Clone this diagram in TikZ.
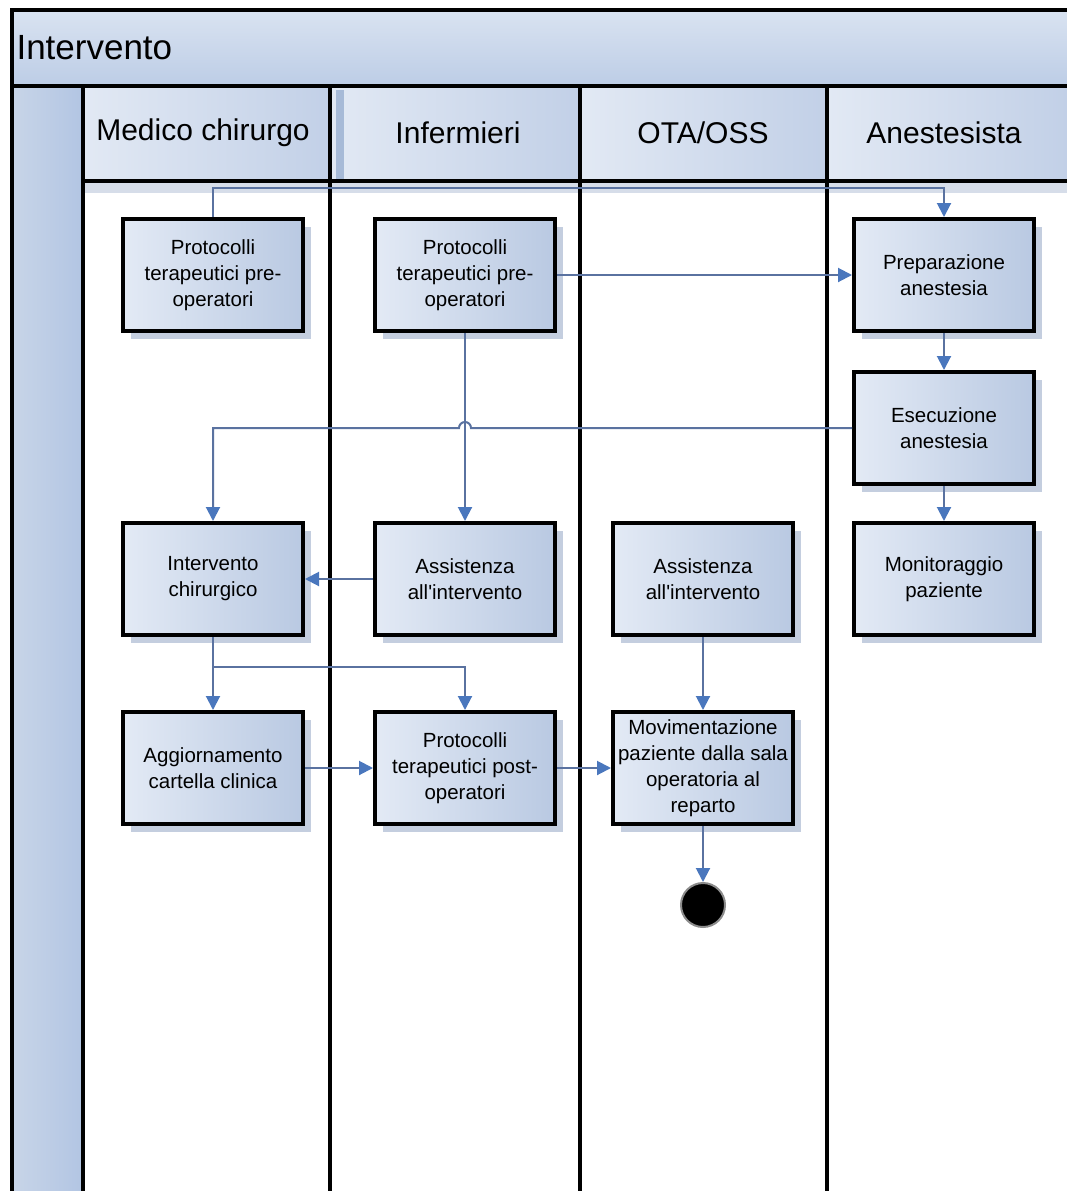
\documentclass[tikz,border=0pt]{standalone}
\usepackage{fontspec}
\setmainfont{Liberation Sans}[Ligatures=TeXOff]
\usetikzlibrary{arrows.meta,shadows,calc}

\definecolor{bandtop}{HTML}{D9E3F1}
\definecolor{bandbot}{HTML}{BDCDE6}
\definecolor{headl}{HTML}{E2E9F4}
\definecolor{headr}{HTML}{C2D0E7}
\definecolor{stripl}{HTML}{C8D5E8}
\definecolor{stripr}{HTML}{B2C5E3}
\definecolor{boxl}{HTML}{E3EAF5}
\definecolor{boxr}{HTML}{B9C9E2}
\definecolor{shadowc}{HTML}{C4CEDF}
\definecolor{linec}{HTML}{5A72A0}
\definecolor{arrowc}{HTML}{4A77BD}
\definecolor{sepc}{HTML}{A7BAD7}

\begin{document}
\begin{tikzpicture}[x=1pt,y=-1pt,
  laneline/.style={draw=black, line width=4pt},
  task/.style={draw=black, line width=4pt, minimum width=180pt, minimum height=112pt,
    inner sep=0pt, align=center, left color=boxl, right color=boxr,
    font=\fontsize{20.5}{26}\selectfont,
    drop shadow={shadow xshift=8pt, shadow yshift=-8pt, fill=shadowc, opacity=1}},
  flow/.style={draw=linec, line width=2pt, -{Triangle[length=14pt,width=14pt,color=arrowc]}},
  lanehead/.style={font=\fontsize{30}{34}\selectfont, anchor=center},
  headcell/.style={left color=headl, right color=headr}
]
% canvas
\fill[white] (0,0) rectangle (1067,1191);
\useasboundingbox (0,0) rectangle (1067,1191);

% pool title band
\shade[top color=bandtop, bottom color=bandbot] (12,10) rectangle (1067,85);
\node[anchor=west, font=\fontsize{35}{40}\selectfont] (pooltitle) at (13,48) {Intervento};

% left strip of the pool
\shade[left color=stripl, right color=stripr] (12,86) rectangle (83,1191);

% lane header cells
\shade[headcell] (83,87) rectangle (330,181);
\shade[headcell] (330,87) rectangle (580,181);
\shade[headcell] (580,87) rectangle (827,181);
\shade[headcell] (827,87) rectangle (1067,181);
\fill[sepc] (336,90) rectangle (344,181);
\fill[shadowc!70!white] (83,183) rectangle (1067,193);

\node[lanehead] (hmed) at (203,133) {Medico chirurgo};
\node[lanehead] (hinf) at (458,133) {Infermieri};
\node[lanehead] (hota) at (703,133) {OTA/OSS};
\node[lanehead] (hane) at (944,133) {Anestesista};

% pool frame and lane separators
\draw[laneline] (10,10) -- (1067,10);
\draw[laneline] (12,8) -- (12,1191);
\draw[laneline] (12,86) -- (1067,86);
\draw[laneline] (83,181) -- (1067,181);
\draw[laneline] (83,86) -- (83,1191);
\draw[laneline] (330,86) -- (330,1191);
\draw[laneline] (580,86) -- (580,1191);
\draw[laneline] (827,86) -- (827,1191);

% activities
\node[task] (protmed) at (213,275) {Protocolli\\terapeutici pre-\\operatori};
\node[task] (protinf) at (465,275) {Protocolli\\terapeutici pre-\\operatori};
\node[task] (prep) at (944,275) {Preparazione\\anestesia};
\node[task] (esec) at (944,428) {Esecuzione\\anestesia};
\node[task] (interv) at (213,579) {Intervento\\chirurgico};
\node[task] (assinf) at (465,579) {Assistenza\\all'intervento};
\node[task] (assota) at (703,579) {Assistenza\\all'intervento};
\node[task] (monit) at (944,579) {Monitoraggio\\paziente};
\node[task] (agg) at (213,768) {Aggiornamento\\cartella clinica};
\node[task] (protpost) at (465,768) {Protocolli\\terapeutici post-\\operatori};
\node[task] (movim) at (703,768) {Movimentazione\\paziente dalla sala\\operatoria al\\reparto};

% final state
\node[circle, fill=black, draw=black!45, line width=2pt, minimum size=44pt, inner sep=0pt] (fine) at (703,905) {};

% flows
\coordinate (topbus) at (600,188);
\draw[flow] (protmed.north) |- (topbus) -| (prep.north);
\draw[flow] (protinf.east) -- (prep.west);
\draw[flow] (protinf.south) -- (assinf.north);
\draw[flow] (prep.south) -- (esec.north);
\coordinate (hop) at (assinf.north |- esec.west);
\draw[flow] (esec.west) -- ([xshift=6pt]hop)
  arc[start angle=0, end angle=180, radius=6pt] -| (interv.north);
\draw[flow] (esec.south) -- (monit.north);
\draw[flow] (assinf.west) -- (interv.east);
\coordinate (split) at (213,667);
\draw[flow] (interv.south) -- (agg.north);
\draw[flow] (split) -| (protpost.north);
\draw[flow] (agg.east) -- (protpost.west);
\draw[flow] (protpost.east) -- (movim.west);
\draw[flow] (assota.south) -- (movim.north);
\draw[flow] (movim.south) -- (fine.north);
\end{tikzpicture}
\end{document}
